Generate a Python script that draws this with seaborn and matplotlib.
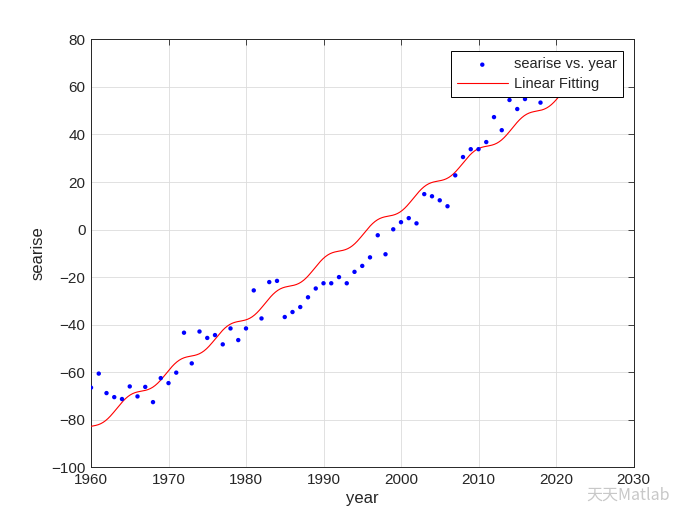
import numpy as np
import pandas as pd
import matplotlib
matplotlib.use("Agg")
import matplotlib.pyplot as plt
import seaborn as sns

# ---- data ----
years = [1960, 1961, 1962, 1963, 1964, 1965, 1966, 1967, 1968, 1969,
         1970, 1971, 1972, 1973, 1974, 1975, 1976, 1977, 1978, 1979,
         1980, 1981, 1982, 1983, 1984, 1985, 1986, 1987, 1988, 1989,
         1990, 1991, 1992, 1993, 1994, 1995, 1996, 1997, 1998, 1999,
         2000, 2001, 2002, 2003, 2004, 2005, 2006, 2007, 2008, 2009,
         2010, 2011, 2012, 2013, 2014, 2015, 2016, 2018]
searise = [-66.5, -60.6, -68.8, -70.5, -71.3, -66.0, -70.2, -66.2, -72.6, -62.5,
           -64.6, -60.2, -43.4, -56.3, -42.9, -45.6, -44.4, -48.3, -41.6, -46.5,
           -41.6, -25.6, -37.4, -22.1, -21.6, -36.8, -34.7, -32.6, -28.5, -24.8,
           -22.6, -22.6, -20.0, -22.6, -17.8, -15.3, -11.7, -2.4, -10.4, 0.1,
           3.1, 4.8, 2.6, 14.9, 14.0, 12.3, 9.8, 22.8, 30.5, 33.8,
           33.8, 36.8, 47.3, 41.8, 54.5, 50.7, 54.9, 53.4]

# fitted model parameters (trend + periodic term)
fit_intercept_1960 = -83.0
fit_slope = 2.31
fit_amp = 1.75
fit_period = 6.375
fit_phase_year = 1963.31
fit_range = (1960, 2022)

xtick_vals = [1960, 1970, 1980, 1990, 2000, 2010, 2020, 2030]
ytick_vals = [-100, -80, -60, -40, -20, 0, 20, 40, 60, 80]

# ---- build tables ----
df_pts = pd.DataFrame({"year": years, "searise": searise})
xf = np.linspace(fit_range[0], fit_range[1], 600)
yf = (fit_intercept_1960 + fit_slope * (xf - 1960)
      + fit_amp * np.sin(2 * np.pi * (xf - fit_phase_year) / fit_period))
df_fit = pd.DataFrame({"year": xf, "fit": yf})

# ---- style ----
sns.set_theme(style="white")
plt.rcParams["font.family"] = ["Liberation Sans", "DejaVu Sans"]
plt.rcParams["xtick.direction"] = "in"
plt.rcParams["ytick.direction"] = "in"

fig = plt.figure(figsize=(7.0, 5.25), dpi=100)
ax = fig.add_axes([0.13, 0.11, 0.775, 0.815])

sns.lineplot(data=df_fit, x="year", y="fit", ax=ax, color="#ff0000",
             linewidth=0.8, label="Linear Fitting", zorder=3)
sns.scatterplot(data=df_pts, x="year", y="searise", ax=ax, color="#0000ff",
                s=10, edgecolor="none", marker="o", label="searise vs. year",
                zorder=4)

ax.set_xlim(1960, 2030)
ax.set_ylim(-100, 80)
ax.set_xticks(xtick_vals)
ax.set_yticks(ytick_vals)
ax.tick_params(axis="both", which="both", labelsize=11, colors="#262626",
               length=4.5, width=0.6, top=True, right=True,
               labelcolor="#262626", pad=4)
ax.grid(True, color="#dcdcdc", linewidth=0.6)
ax.set_axisbelow(True)
for sp in ax.spines.values():
    sp.set_color("#262626")
    sp.set_linewidth(0.7)

ax.set_xlabel("year", fontsize=12, color="#262626", labelpad=3)
ax.set_ylabel("searise", fontsize=12, color="#262626", labelpad=4)

handles, labels = ax.get_legend_handles_labels()
order = [labels.index("searise vs. year"), labels.index("Linear Fitting")]
leg = ax.legend([handles[i] for i in order], [labels[i] for i in order],
                loc="upper right", bbox_to_anchor=(0.98, 0.972),
                fontsize=10.5, frameon=True, fancybox=False, framealpha=1,
                edgecolor="#000000", borderpad=0.42, handlelength=3.5,
                handletextpad=0.4, labelspacing=0.38, borderaxespad=0)
leg.get_frame().set_linewidth(0.7)
leg.set_zorder(10)

# watermark
fig.text(0.838, 0.057, "天天Matlab", fontsize=11.5, color="#c8c8c8",
         family=["Noto Sans CJK SC", "DejaVu Sans"], ha="left", va="center",
         zorder=20)

fig.savefig("out.png", dpi=100)
